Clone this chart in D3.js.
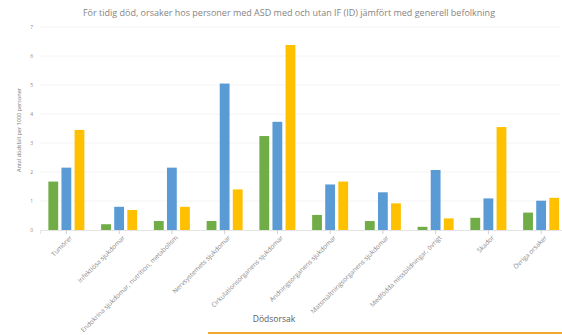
<!DOCTYPE html>
<html>
<head>
<meta charset="utf-8">
<script src="https://cdn.jsdelivr.net/npm/d3@7"></script>
<style>
  body { margin: 0; background: #fff; }
  text { font-family: "Open Sans", sans-serif; }
</style>
</head>
<body>
<div id="chart"></div>
<script>
var categories = ["Tumörer", "Infektiösa sjukdomar", "Endokrina sjukdomar, nutrition, metabolism",
  "Nervsystemets sjukdomar", "Cirkulationsorganens sjukdomar", "Andningsorganens sjukdomar",
  "Matsmältningsorganens sjukdomar", "Medfödda missbildningar, övrigt", "Skador", "Övriga orsaker"];
var seriesNames = ["ASD", "ASD med IF", "ASD utan IF"];
var asd = [1.67, 0.2, 0.31, 0.31, 3.24, 0.52, 0.31, 0.11, 0.42, 0.6];
var asdId = [2.15, 0.8, 2.15, 5.05, 3.73, 1.57, 1.3, 2.07, 1.09, 1.01];
var asdNoId = [3.45, 0.69, 0.8, 1.4, 6.38, 1.67, 0.92, 0.4, 3.55, 1.11];
var yTicks = [0, 1, 2, 3, 4, 5, 6, 7];
var colors = ["#70ad47", "#5b9bd5", "#ffc000"];

var W = 562, H = 335;
var svg = d3.select("#chart").append("svg")
  .attr("width", W).attr("height", H);

var x = d3.scaleBand()
  .domain(categories)
  .range([40, 567.5]);
var xInner = d3.scaleBand()
  .domain(seriesNames)
  .range([0, 36])
  .paddingInner(0.25);
var y = d3.scaleLinear()
  .domain([0, 7])
  .range([230, 27]);

// title
svg.append("text")
  .attr("x", 289).attr("y", 16)
  .attr("text-anchor", "middle")
  .style("font-size", "9px")
  .attr("fill", "#858585")
  .text("För tidig död, orsaker hos personer med ASD med och utan IF (ID) jämfört med generell befolkning");

// gridlines
svg.append("g").selectAll("line")
  .data(yTicks.slice(1))
  .enter().append("line")
  .attr("x1", 40).attr("x2", 560)
  .attr("y1", function (d) { return y(d); })
  .attr("y2", function (d) { return y(d); })
  .attr("stroke", "#f1f1f1")
  .attr("stroke-width", 0.8);

// y axis labels
var yAxis = svg.append("g")
  .attr("transform", "translate(35,0)")
  .call(d3.axisLeft(y).tickValues(yTicks).tickFormat(d3.format("d")).tickSize(0).tickPadding(2));
yAxis.select(".domain").remove();
yAxis.selectAll("text")
  .style("font-size", "5px")
  .style("font-family", "Open Sans, sans-serif")
  .attr("fill", "#8a8a8a");

svg.append("text")
  .attr("transform", "translate(21,130) rotate(-90)")
  .attr("text-anchor", "middle")
  .style("font-size", "5.5px")
  .attr("fill", "#777")
  .text("Antal dödsfall per 1000 personer");

// bars
var groups = svg.append("g").selectAll("g")
  .data(categories)
  .enter().append("g")
  .attr("transform", function (d) { return "translate(" + (x(d) + x.bandwidth() / 2 - 18) + ",0)"; });

groups.selectAll("rect")
  .data(function (d, i) {
    return [asd[i], asdId[i], asdNoId[i]].map(function (v, j) {
      return { s: seriesNames[j], v: v, c: colors[j] };
    });
  })
  .enter().append("rect")
  .attr("x", function (d) { return xInner(d.s); })
  .attr("width", xInner.bandwidth())
  .attr("y", function (d) { return y(d.v); })
  .attr("height", function (d) { return y(0) - y(d.v); })
  .attr("fill", function (d) { return d.c; });

// x axis
var xAxis = svg.append("g")
  .attr("transform", "translate(0," + y(0) + ")")
  .call(d3.axisBottom(x).tickSize(4).tickPadding(3));
xAxis.select(".domain").attr("stroke", "#e4e4e4");
xAxis.selectAll(".tick line").attr("stroke", "#d0d0d0");
xAxis.selectAll("text")
  .style("font-size", "6.5px")
  .style("font-family", "Open Sans, sans-serif")
  .attr("fill", "#8a8a8a")
  .attr("text-anchor", "end")
  .attr("dx", "-0.2em")
  .attr("dy", "0.5em")
  .attr("transform", "rotate(-45)");

svg.append("text")
  .attr("x", 274).attr("y", 322)
  .attr("text-anchor", "middle")
  .style("font-size", "8.5px")
  .attr("fill", "#5a5a5a")
  .text("Dödsorsak");

// orange strip at bottom edge
svg.append("line")
  .attr("x1", 208).attr("x2", W)
  .attr("y1", 333).attr("y2", 333)
  .attr("stroke", "#f0a830")
  .attr("stroke-width", 2);
</script>
</body>
</html>
